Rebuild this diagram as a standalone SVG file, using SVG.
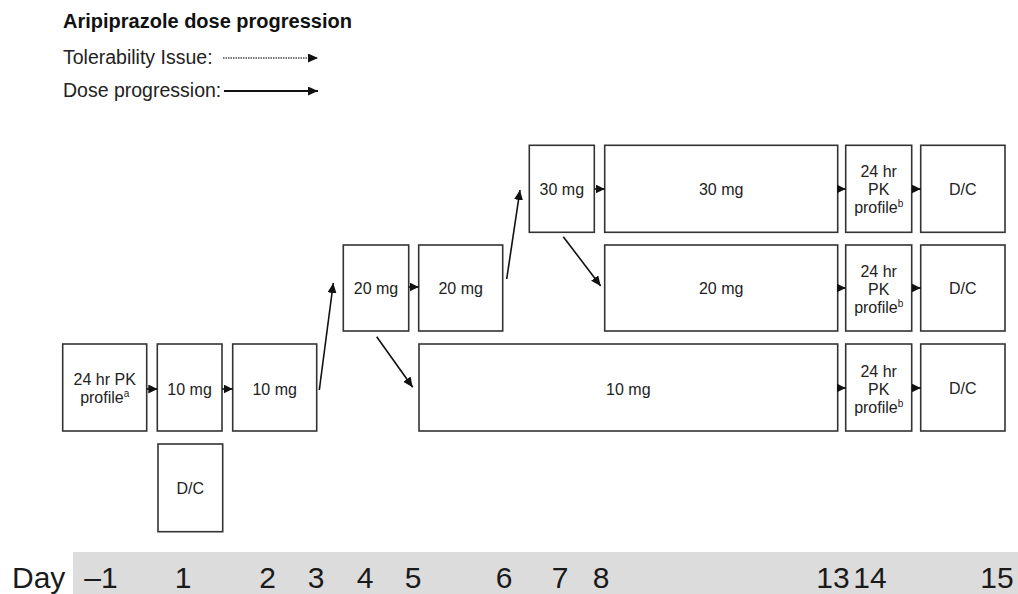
<svg xmlns="http://www.w3.org/2000/svg" width="1018" height="594" viewBox="0 0 1018 594">
<defs>
<marker id="ah" markerUnits="userSpaceOnUse" markerWidth="10" markerHeight="9" refX="10" refY="4.5" orient="auto">
<path d="M0,0 L10,4.5 L0,9 Z" fill="#111"/>
</marker>
<marker id="sh" markerUnits="userSpaceOnUse" markerWidth="9" markerHeight="9" refX="9" refY="4.5" orient="auto">
<path d="M0,0 L9,4.5 L0,9 Z" fill="#111"/>
</marker>
<style>
text{font-family:"Liberation Sans",Arial,sans-serif;fill:#222}
.box{fill:#fff;stroke:#333;stroke-width:1.6}
.lbl{font-size:16px;text-anchor:middle}
.sup{font-size:10px}
.con{stroke:#111;stroke-width:1.6;fill:none}
.day{font-size:30px;text-anchor:middle;fill:#1a1a1a}
.leg{font-size:19.5px}
</style>
</defs>

<g id="legend">
<text x="63" y="28" style="font-size:20px;font-weight:bold;fill:#111">Aripiprazole dose progression</text>
<text class="leg" x="63" y="64">Tolerability Issue:</text>
<line x1="223" y1="58" x2="318" y2="58" stroke="#777" stroke-width="2" stroke-dasharray="1.5,1" marker-end="url(#ah)"/>
<text class="leg" x="63" y="97">Dose progression:</text>
<line x1="224" y1="91" x2="318" y2="91" stroke="#111" stroke-width="2" marker-end="url(#ah)"/>
</g>

<g id="n-pk0"><rect class="box" x="62.7" y="344" width="84" height="87"/>
<text class="lbl" x="104.7" y="385">24 hr PK</text>
<text class="lbl" x="104.7" y="403">profile<tspan class="sup" dy="-6">a</tspan></text></g>
<g id="n-d1"><rect class="box" x="157.3" y="344" width="64.7" height="87"/><text class="lbl" x="189.6" y="395">10 mg</text></g>
<g id="n-dc1"><rect class="box" x="158" y="444" width="64.7" height="87.7"/><text class="lbl" x="190.3" y="494">D/C</text></g>
<g id="n-d2"><rect class="box" x="232.7" y="344" width="84" height="87"/><text class="lbl" x="274.7" y="395">10 mg</text></g>
<g id="n-d4"><rect class="box" x="343.3" y="245" width="65.4" height="86"/><text class="lbl" x="376" y="294">20 mg</text></g>
<g id="n-d5"><rect class="box" x="418.7" y="245" width="84" height="86"/><text class="lbl" x="460.7" y="294">20 mg</text></g>
<g id="n-d7"><rect class="box" x="529.3" y="145.3" width="65" height="87"/><text class="lbl" x="561.8" y="195">30 mg</text></g>

<g id="n-30wide"><rect class="box" x="604.7" y="145.3" width="233" height="87"/><text class="lbl" x="721.2" y="195">30 mg</text></g>
<g id="n-pk30"><rect class="box" x="845.7" y="145.3" width="66" height="87"/>
<text class="lbl" x="878.7" y="177">24 hr</text><text class="lbl" x="878.7" y="195">PK</text>
<text class="lbl" x="878.7" y="213">profile<tspan class="sup" dy="-6">b</tspan></text></g>
<g id="n-dc30"><rect class="box" x="920.7" y="145.3" width="84.3" height="87"/><text class="lbl" x="962.8" y="195">D/C</text></g>

<g id="n-20wide"><rect class="box" x="604.7" y="245" width="233" height="86"/><text class="lbl" x="721.2" y="294">20 mg</text></g>
<g id="n-pk20"><rect class="box" x="845.7" y="245" width="66" height="86"/>
<text class="lbl" x="878.7" y="277">24 hr</text><text class="lbl" x="878.7" y="295">PK</text>
<text class="lbl" x="878.7" y="313">profile<tspan class="sup" dy="-6">b</tspan></text></g>
<g id="n-dc20"><rect class="box" x="920.7" y="245" width="84.3" height="86"/><text class="lbl" x="962.8" y="294">D/C</text></g>

<g id="n-10wide"><rect class="box" x="419" y="344" width="418.7" height="87"/><text class="lbl" x="628.3" y="395">10 mg</text></g>
<g id="n-pk10"><rect class="box" x="845.7" y="344" width="66" height="87"/>
<text class="lbl" x="878.7" y="377">24 hr</text><text class="lbl" x="878.7" y="395">PK</text>
<text class="lbl" x="878.7" y="413">profile<tspan class="sup" dy="-6">b</tspan></text></g>
<g id="n-dc10"><rect class="box" x="920.7" y="344" width="84.3" height="87"/><text class="lbl" x="962.8" y="394">D/C</text></g>

<g id="connectors">
<line class="con" x1="146.7" y1="389" x2="157.3" y2="389" marker-end="url(#sh)"/>
<line class="con" x1="222" y1="389" x2="232.7" y2="389" marker-end="url(#sh)"/>
<line class="con" x1="408.7" y1="287" x2="418.7" y2="287" marker-end="url(#sh)"/>
<line class="con" x1="594.3" y1="189" x2="604.7" y2="189" marker-end="url(#sh)"/>
<line class="con" x1="837.7" y1="189" x2="845.7" y2="189" marker-end="url(#sh)"/>
<line class="con" x1="911.7" y1="189" x2="920.7" y2="189" marker-end="url(#sh)"/>
<line class="con" x1="837.7" y1="288" x2="845.7" y2="288" marker-end="url(#sh)"/>
<line class="con" x1="911.7" y1="288" x2="920.7" y2="288" marker-end="url(#sh)"/>
<line class="con" x1="837.7" y1="388" x2="845.7" y2="388" marker-end="url(#sh)"/>
<line class="con" x1="911.7" y1="388" x2="920.7" y2="388" marker-end="url(#sh)"/>
<line class="con" x1="319.3" y1="390" x2="333.3" y2="283" marker-end="url(#ah)"/>
<line class="con" x1="376.7" y1="336.7" x2="412.7" y2="387.3" marker-end="url(#ah)"/>
<line class="con" x1="506.7" y1="279" x2="520" y2="190" marker-end="url(#ah)"/>
<line class="con" x1="563.3" y1="236.7" x2="600.7" y2="286" marker-end="url(#ah)"/>
</g>

<g id="day-axis">
<rect x="73" y="552" width="945" height="42" fill="#dcdcdc"/>
<text x="12" y="588" style="font-size:30px;fill:#1a1a1a">Day</text>
<text class="day" x="101" y="588">–1</text>
<text class="day" x="183" y="588">1</text>
<text class="day" x="267.5" y="588">2</text>
<text class="day" x="316" y="588">3</text>
<text class="day" x="365" y="588">4</text>
<text class="day" x="413" y="588">5</text>
<text class="day" x="504" y="588">6</text>
<text class="day" x="560" y="588">7</text>
<text class="day" x="601" y="588">8</text>
<text class="day" x="833" y="588">13</text>
<text class="day" x="870" y="588">14</text>
<text class="day" x="997" y="588">15</text>
</g>
</svg>
